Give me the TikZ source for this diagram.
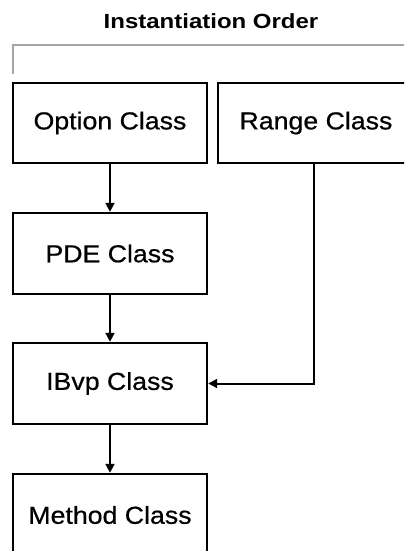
\documentclass[tikz,border=0pt]{standalone}
\usepackage{fontspec}
\setmainfont{Liberation Sans}[FakeStretch=1.09]
\newfontfamily\headfont{Liberation Sans}[FakeStretch=1.17]
\usetikzlibrary{arrows.meta}
\begin{document}
\begin{tikzpicture}[x=1pt,y=-1pt,
  labelfont/.style={font=\fontsize{24.5}{29}\selectfont\addfontfeature{FakeBold=0.6}},
  classbox/.style={draw=black, line width=2.4pt, minimum width=194pt, minimum height=80pt,
    inner sep=0pt, labelfont},
  flow/.style={draw=black, line width=2pt, -{Triangle[length=9pt,width=9pt]}},
  bracket/.style={draw=black!35, line width=1.6pt}
]
\useasboundingbox (0,0) rectangle (404,551);
\clip (0,0) rectangle (404,551);

% title and the open bracket underneath it
\node[font=\headfont\fontsize{20.5}{25}\selectfont\bfseries] (title) at (211,21) {Instantiation Order};
\draw[bracket] (13,74) -- (13,45) -- (412,45);

% class boxes
\node[classbox] (option) at (110,123) {Option Class};
\node[classbox, minimum width=196pt] (range) at (316,123) {Range Class};
\node[classbox, minimum height=81pt] (pde) at (110,253.5) {PDE Class};
\node[classbox, minimum height=81pt] (ibvp) at (110,383.5) {IBvp Class};
\node[classbox, minimum height=88pt] (method) at (110,518) {};
\node[labelfont] (methodlabel) at (110,515) {Method Class};

% instantiation order
\draw[flow] (option.south) -- (pde.north);
\draw[flow] (pde.south) -- (ibvp.north);
\draw[flow] (ibvp.south) -- (method.north);
\draw[flow] (range.south -| 314,0) |- (ibvp.east);
\end{tikzpicture}
\end{document}
